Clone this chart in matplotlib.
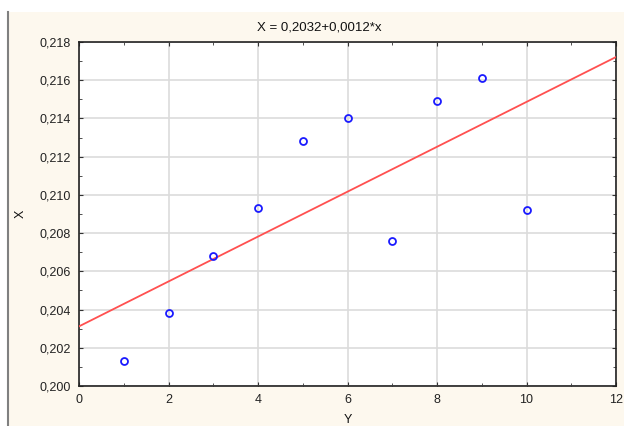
import numpy as np
import matplotlib
matplotlib.use("Agg")
import matplotlib.pyplot as plt
from matplotlib.patches import Rectangle
from matplotlib.ticker import MultipleLocator, FuncFormatter

# Data
x_vals = [1, 2, 3, 4, 5, 6, 7, 8, 9, 10]
y_vals = [0.2013, 0.2038, 0.2068, 0.2093, 0.2128, 0.2140, 0.2076, 0.2149, 0.2161, 0.2092]
title_text = "X = 0,2032+0,0012*x"

plt.rcParams['font.family'] = ['Liberation Sans', 'DejaVu Sans']

fig = plt.figure(figsize=(6.24, 4.26), dpi=100, facecolor='white')
# cream panel with a grey left border, like the original window
fig.patches.append(Rectangle((8 / 624, 0), 616 / 624, 414 / 426, transform=fig.transFigure,
                             facecolor='#fdf8ee', edgecolor='none', zorder=-2))
fig.lines.append(plt.Line2D([8 / 624, 8 / 624], [0, 414 / 426], transform=fig.transFigure,
                            color='#808080', lw=1.5, zorder=-1))

ax = fig.add_axes([79 / 624, 40 / 426, 537 / 624, 344 / 426])
ax.set_facecolor('white')

# regression line across the full x range
slope, intercept = np.polyfit(x_vals, y_vals, 1)
xs = np.array([0, 12])
ax.plot(xs, intercept + slope * xs, color='#ff5050', lw=1.3, zorder=3)
ax.plot(x_vals, y_vals, 'o', mfc='none', mec='#1a1aff', ms=5, mew=1.3, zorder=4)

ax.set_xlim(0, 12)
ax.set_ylim(0.200, 0.218)
ax.xaxis.set_major_locator(MultipleLocator(2))
ax.xaxis.set_minor_locator(MultipleLocator(1))
ax.yaxis.set_major_locator(MultipleLocator(0.002))
ax.yaxis.set_minor_locator(MultipleLocator(0.001))
ax.yaxis.set_major_formatter(FuncFormatter(lambda v, p: f"{v:.3f}".replace('.', ',')))
ax.xaxis.set_major_formatter(FuncFormatter(lambda v, p: f"{v:.0f}"))

ax.grid(True, which='major', color='#dcdcdc', lw=1.2)
ax.set_axisbelow(True)
ax.tick_params(which='both', direction='in', top=True, right=True,
               labelsize=9, labelcolor='#222222', color='#333333')
ax.tick_params(which='major', length=3, pad=6)
ax.tick_params(which='minor', length=2)
for s in ax.spines.values():
    s.set_color('#222222')
    s.set_linewidth(1.2)

# title sits centred on the window, not on the axes
fig.text(319.5 / 624, 1 - 30 / 426, title_text, fontsize=9.5, color='#111111',
         ha='center', va='baseline')
ax.set_xlabel("Y", fontsize=9, color='#111111')
ax.xaxis.set_label_coords(0.5, -0.08)
ax.set_ylabel("X", fontsize=9, color='#111111')
ax.yaxis.set_label_coords(-0.097, 0.5)

fig.savefig("out.png", dpi=100, facecolor=fig.get_facecolor())
